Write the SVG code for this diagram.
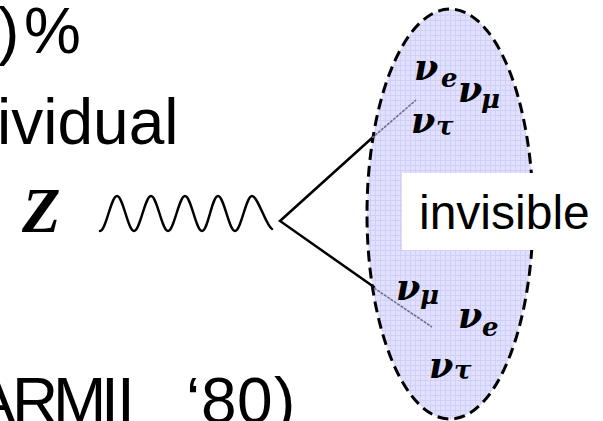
<svg xmlns="http://www.w3.org/2000/svg" width="603" height="421" viewBox="0 0 603 421">
<defs>
<pattern id="grid" width="5" height="5" patternUnits="userSpaceOnUse">
<rect width="5" height="5" fill="#e1e1fd"/>
<path d="M0 0.5H5M0.5 0V5" stroke="#cfcff7" stroke-width="1" fill="none"/>
</pattern>
</defs>
<style>
.slide{font-family:"Liberation Sans",Arial,sans-serif;font-size:64px;fill:#000}
.nu{font-family:"DejaVu Serif","Liberation Serif",serif;font-style:italic;font-weight:bold;font-size:35px;fill:#000}
.sub{font-family:"DejaVu Serif","Liberation Serif",serif;font-style:italic;font-weight:bold;font-size:26px;fill:#000}
.line{stroke:#000;stroke-width:2.5;fill:none;stroke-linecap:round}
.ghost{stroke:#707090;stroke-width:1.6;fill:none;stroke-dasharray:3 1}
</style>
<rect width="603" height="421" fill="#fff"/>
<g id="slide-text">
<text class="slide" x="-2 24" y="53">)%</text>
<text class="slide" x="-3" y="144">ividual</text>
<text class="slide" x="-27 12 53 101 117 135 186 201 237 274" y="423">ARMII ‘80)</text>
</g>
<g id="invisible-region">
<ellipse cx="450" cy="214" rx="83" ry="205" fill="url(#grid)" stroke="#000" stroke-width="3" stroke-dasharray="11 6"/>
<rect x="402" y="173" width="201" height="77" fill="#fff"/>
<text x="419" y="229" font-family="Liberation Sans, Arial, sans-serif" font-size="48" fill="#000">invisible</text>
</g>
<g id="neutrinos-top">
<text class="nu" x="414" y="80">ν</text><text class="sub" x="441" y="87">e</text>
<text class="nu" x="458" y="102">ν</text><text class="sub" x="481" y="108">μ</text>
<text class="nu" x="411" y="133">ν</text><text class="sub" x="436" y="135">τ</text>
</g>
<g id="neutrinos-bottom">
<text class="nu" x="396" y="300">ν</text><text class="sub" x="420" y="304">μ</text>
<text class="nu" x="458" y="328">ν</text><text class="sub" x="482" y="336">e</text>
<text class="nu" x="429" y="378">ν</text><text class="sub" x="454" y="379">τ</text>
</g>
<g id="z-boson">
<text x="22" y="232" font-family="Liberation Serif, serif" font-style="italic" font-weight="bold" font-size="63" fill="#000">Z</text>
<path class="line" d="M100,231 C106,231 111,196 117,196 C123,196 128,231 134,231 C140,231 145,196 151,196 C157,196 162,231 168,231 C174,231 179,196 185,196 C191,196 196,231 202,231 C208,231 212,196 218,196 C224,196 229,231 235,231 C241,231 246,196 252,196 C258,196 266,226 272,229"/>
</g>
<g id="connectors">
<path class="line" d="M372,138 L280,221 L374,287"/>
<path class="ghost" d="M372,138 L416,100"/>
<path class="ghost" d="M374,288 L432,327"/>
</g>
</svg>
